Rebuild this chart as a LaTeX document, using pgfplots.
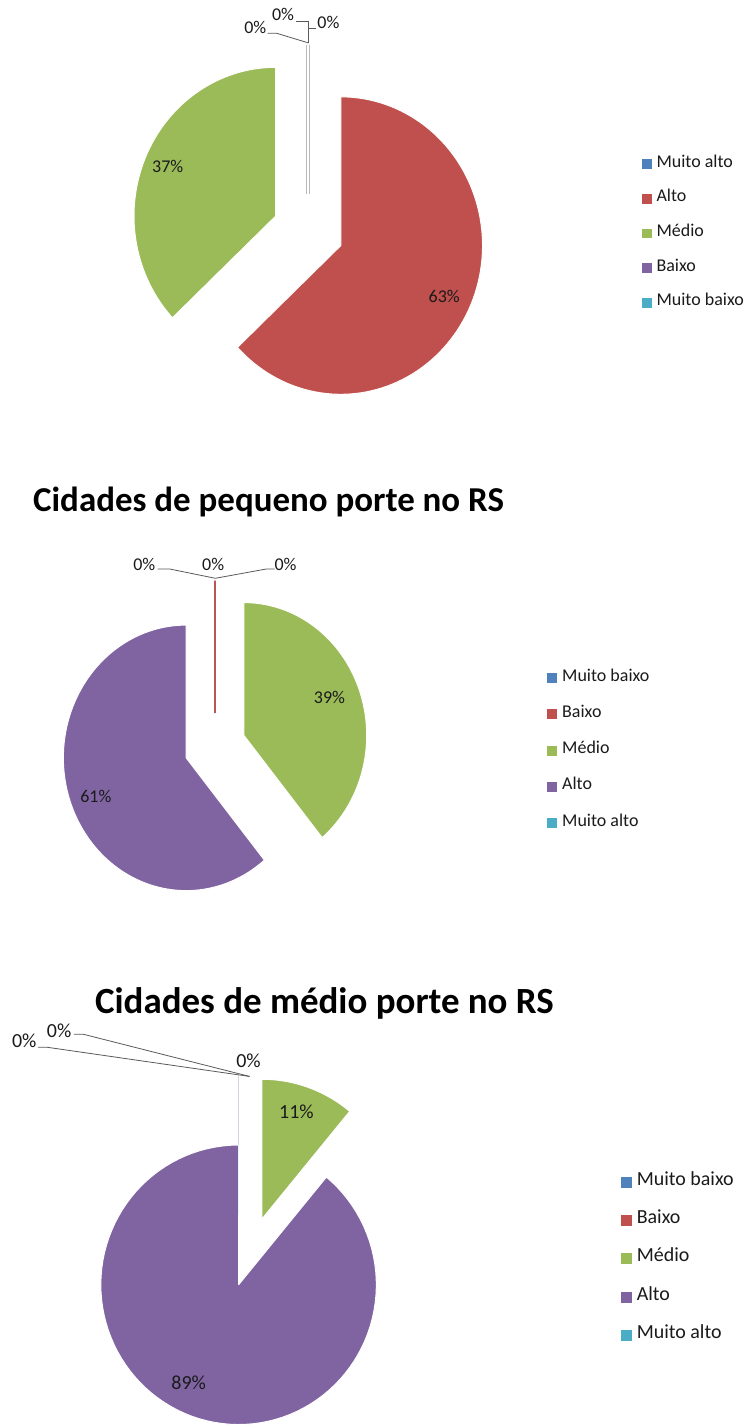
\documentclass[border=0pt]{standalone}
\usepackage{fontspec}
\setmainfont{Carlito}
\usepackage{pgfplots}
\pgfplotsset{compat=1.18}
\definecolor{xblue}{HTML}{4F81BD}
\definecolor{xred}{HTML}{C0504D}
\definecolor{xgreen}{HTML}{9BBB59}
\definecolor{xpurple}{HTML}{8064A2}
\definecolor{xcyan}{HTML}{4BACC6}
\definecolor{txt}{HTML}{1A1A1A}
\definecolor{lead}{HTML}{595959}

% #1 cx, #2 cy, #3 rx, #4 ry, #5 start (percent), #6 share (percent), #7 explosion, #8 style
\newcommand{\pieslice}[8]{%
\addplot[#8, samples at={-1,0,1,...,100,101}]
 ({#1 + #7*#3*sin(1.8*(2*#5+#6)) + #3*(x>=0)*(x<=100)*sin(3.6*(#5+#6*x/100))},
  {#2 - #7*#4*cos(1.8*(2*#5+#6)) - #4*(x>=0)*(x<=100)*cos(3.6*(#5+#6*x/100))});}

\pgfplotsset{
  pieax/.style={
    at={(0,0)}, anchor=south west,
    width=749pt, height=1425pt, scale only axis,
    xmin=0, xmax=749, ymin=0, ymax=1425, y dir=reverse,
    axis line style={draw=none}, ticks=none, clip=false,
    legend image code/.code={\fill[##1,draw=none] (0pt,-4.75pt) rectangle (9.5pt,4.75pt);},
    legend cell align=left,
    legend style={draw=none, fill=none, inner sep=0pt, column sep=5pt,
      text=txt, nodes={inner sep=0pt, text height=9pt, text depth=3pt}},
  },
  slc/.style={fill=#1, draw=white, line width=1pt},
  zer/.style={fill=#1, draw=none},
}

\begin{document}
\begin{tikzpicture}
% ---------------- Chart 1 ----------------
\begin{axis}[pieax,
  legend style={at={(0.8585,0.8889)}, anchor=north west, row sep=22.7pt,
     font=\fontsize{18}{20}\selectfont},
  legend entries={Muito alto, Alto, Médio, Baixo, Muito baixo}]
\pieslice{308.8}{231.2}{142}{149}{0}{0}{0.25}{fill=xblue, draw=gray!55, line width=3.6pt}
\pieslice{308.8}{231.2}{142}{149}{0}{63}{0.25}{slc=xred}
\pieslice{308.8}{231.2}{142}{149}{63}{37}{0.25}{slc=xgreen}
\pieslice{308.8}{231.2}{142}{149}{100}{0}{0.25}{zer=xpurple}
\pieslice{308.8}{231.2}{142}{149}{100}{0}{0.25}{zer=xcyan}
\pieslice{308.8}{231.2}{142}{149}{0}{0}{0.25}{forget plot, draw=white, line width=1.6pt}
\addplot[lead, line width=0.8pt, forget plot] coordinates {(268,33.3) (277,33.3) (309,43)};
\addplot[lead, line width=0.8pt, forget plot] coordinates {(297,21.7) (309,21.7) (309,43)};
\addplot[lead, line width=0.8pt, forget plot] coordinates {(309,28.3) (317,28.3)};
\begin{scope}[every node/.style={font=\fontsize{18}{20}\selectfont, text=txt}]
\node at (axis cs:255.8,27.5) {0\%};
\node at (axis cs:283.5,14.5) {0\%};
\node at (axis cs:329,22.2) {0\%};
\node at (axis cs:168,167) {37\%};
\node at (axis cs:445,297) {63\%};
\end{scope}
\end{axis}
% ---------------- Chart 2 ----------------
\begin{axis}[pieax,
  legend style={at={(0.7316,0.5277)}, anchor=north west, row sep=24.3pt,
     font=\fontsize{18}{20}\selectfont},
  legend image code/.code={\fill[#1,draw=none] (0pt,-5pt) rectangle (10pt,5pt);},
  legend entries={Muito baixo, Baixo, Médio, Alto, Muito alto}]
\pieslice{215.4}{747.9}{123}{133}{0}{0}{0.25}{zer=xblue}
\pieslice{215.4}{747.9}{123}{133}{0}{0}{0.25}{fill=xred, draw=xred, line width=1.2pt}
\pieslice{215.4}{747.9}{123}{133}{0}{39}{0.25}{slc=xgreen}
\pieslice{215.4}{747.9}{123}{133}{39}{61}{0.25}{slc=xpurple}
\pieslice{215.4}{747.9}{123}{133}{100}{0}{0.25}{zer=xcyan}
\addplot[lead, line width=0.8pt, forget plot] coordinates {(158,570) (170,570) (215.7,579.3) (266.7,570) (275,570)};
\node[anchor=base, font=\bfseries\fontsize{35}{42}\selectfont, text=black] at (axis cs:269,512) {Cidades de pequeno porte no RS};
\begin{scope}[every node/.style={font=\fontsize{18}{20}\selectfont, text=txt}]
\node at (axis cs:144.5,565) {0\%};
\node at (axis cs:213.5,565) {0\%};
\node at (axis cs:286,565) {0\%};
\node at (axis cs:330,699) {39\%};
\node at (axis cs:96,798) {61\%};
\end{scope}
\end{axis}
% ---------------- Chart 3 ----------------
\begin{axis}[pieax,
  legend style={at={(0.830,0.1730)}, anchor=north west, row sep=26.2pt,
     font=\fontsize{20}{22}\selectfont},
  legend image code/.code={\fill[#1,draw=none] (0pt,-5.5pt) rectangle (11pt,5.5pt);},
  legend entries={Muito baixo, Baixo, Médio, Alto, Muito alto}]
\pieslice{239}{1287}{138}{140}{0}{0}{0.5}{zer=xblue}
\pieslice{239}{1287}{138}{140}{0}{0}{0.5}{zer=xred}
\pieslice{239}{1287}{138}{140}{0}{11}{0.5}{slc=xgreen}
\pieslice{239}{1287}{138}{140}{11}{89}{0}{slc=xpurple}
\pieslice{239}{1287}{138}{140}{100}{0}{0.5}{zer=xcyan}
\addplot[lead, line width=0.8pt, forget plot] coordinates {(38,1049) (46.7,1049) (250,1078.3)};
\addplot[lead, line width=0.8pt, forget plot] coordinates {(74,1036) (83.3,1036) (250,1078.3)};
\node[anchor=base, font=\bfseries\fontsize{37}{44}\selectfont, text=black] at (axis cs:325,1015) {Cidades de médio porte no RS};
\begin{scope}[every node/.style={font=\fontsize{20}{22}\selectfont, text=txt}]
\node at (axis cs:24.3,1042.7) {0\%};
\node at (axis cs:59.2,1032.2) {0\%};
\node at (axis cs:249,1063) {0\%};
\node at (axis cs:297,1114) {11\%};
\node at (axis cs:189,1385) {89\%};
\end{scope}
\end{axis}
\end{tikzpicture}
\end{document}
